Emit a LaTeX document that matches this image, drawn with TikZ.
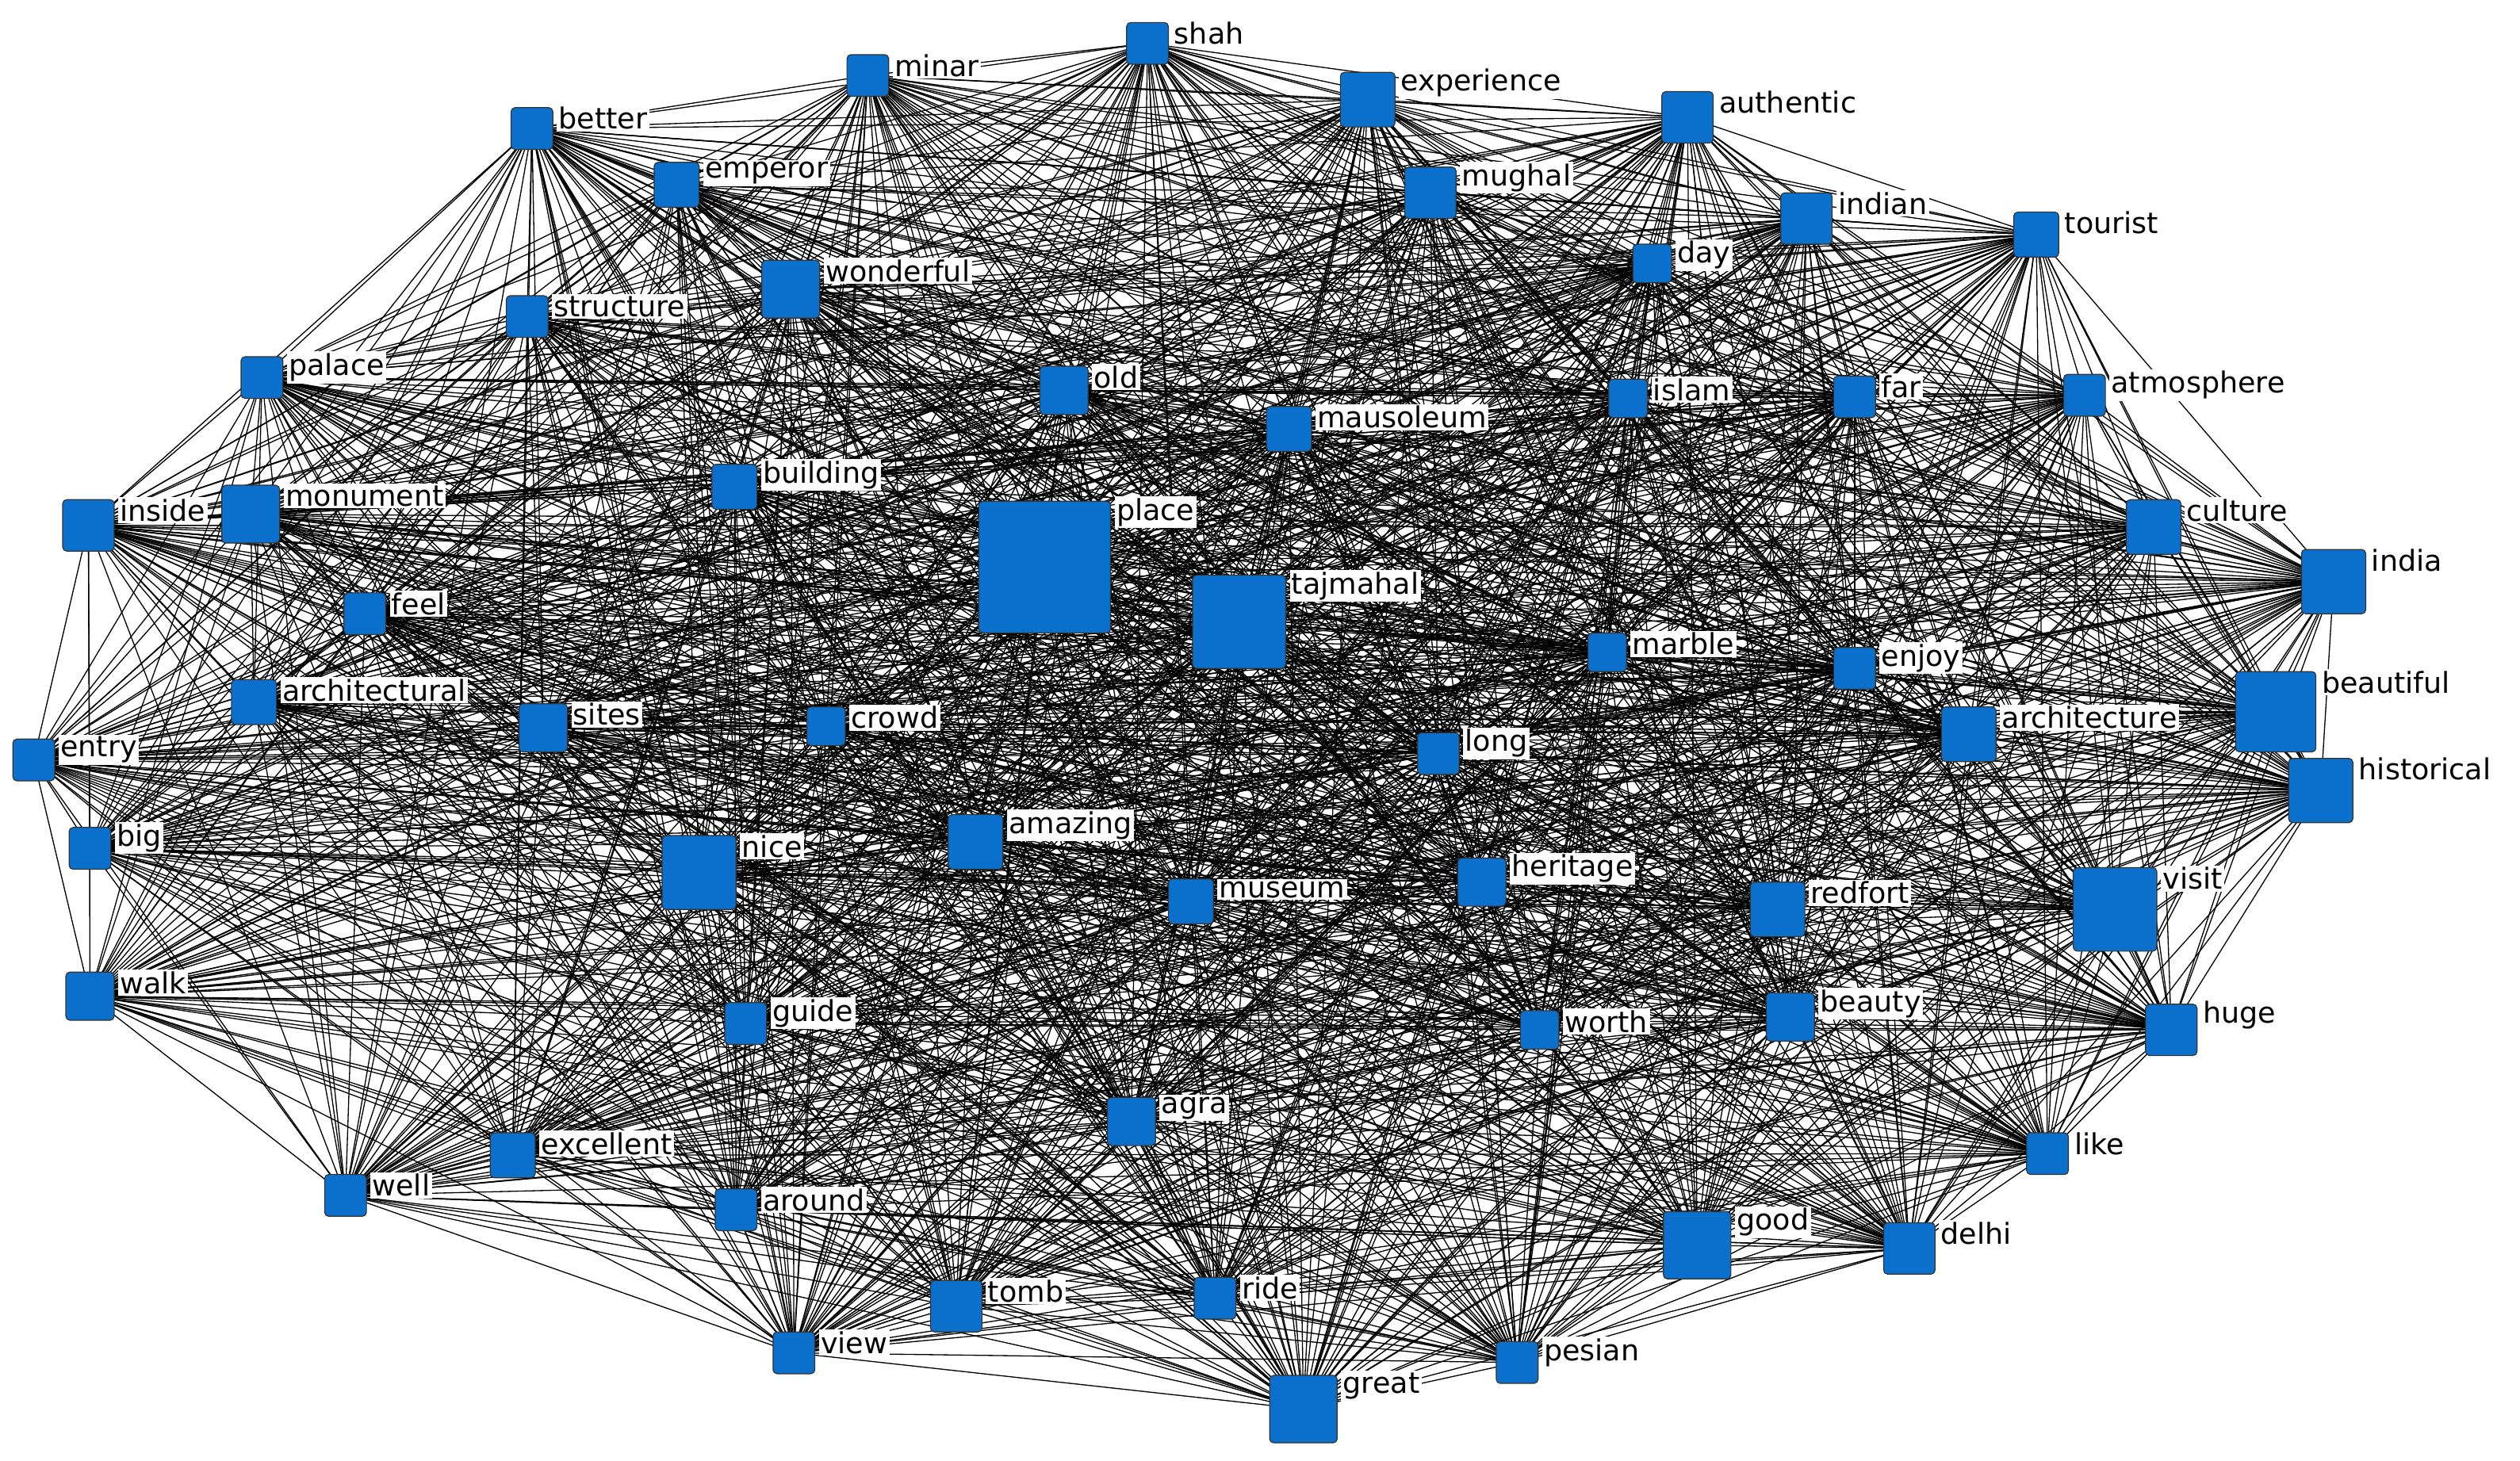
\documentclass[tikz,border=0pt]{standalone}
\usepackage{fontspec}
\setmainfont{DejaVu Sans}
\definecolor{nodeblue}{RGB}{10,112,204}
\begin{document}
\begin{tikzpicture}[x=1pt,y=-1pt,
  wnode/.style={draw=black!80,fill=nodeblue,rounded corners=2.5pt,line width=0.6pt,inner sep=0pt},
  wlabel/.style={fill=white,inner sep=1.2pt,font=\fontsize{18}{18}\selectfont,anchor=west},
  edge/.style={line width=0.65pt,black}]
\useasboundingbox[fill=white] (0,0) rectangle (1568,909);
\def\nodelist{shah/714/27/26,minar/540/47/26,experience/851/62/34,authentic/1050/73/32,better/331/80/26,emperor/421/115/28,mughal/890/120/32,indian/1124/136/32,tourist/1267/146/28,day/1028/164/24,wonderful/492/180/36,structure/328/197/26,palace/163/235/26,old/662/243/30,islam/1013/248/24,far/1154/247/26,atmosphere/1297/246/26,mausoleum/802/267/28,building/457/303/28,inside/55/327/32,monument/156/320/36,culture/1340/328/34,place/650/353/82,tajmahal/771/387/58,india/1452/362/40,feel/227/382/26,marble/1000/406/24,enjoy/1154/416/26,beautiful/1416/443/50,architectural/158/437/28,sites/338/453/30,crowd/514/452/24,architecture/1225/457/34,entry/21/473/26,long/895/469/26,historical/1444/492/40,big/56/528/26,nice/435/543/46,amazing/607/524/34,museum/741/561/28,heritage/922/549/30,redfort/1106/566/34,visit/1316/566/52,walk/56/620/30,guide/464/637/26,worth/958/641/24,beauty/1114/633/30,huge/1351/641/32,agra/704/698/30,like/1274/718/26,excellent/319/719/28,well/215/744/26,around/458/753/26,good/1056/775/42,delhi/1188/777/32,tomb/595/813/32,ride/756/808/26,view/494/842/26,great/811/877/42,pesian/944/848/26}
\foreach \n/\x/\y/\s in \nodelist { \coordinate (c-\n) at (\x,\y); }
\foreach \a/\xa/\ya/\sa [count=\i] in \nodelist {
  \foreach \b/\xb/\yb/\sb [count=\j] in \nodelist {
    \ifnum\j>\i \draw[edge] (c-\a) -- (c-\b); \fi
  }
}
\foreach \n/\x/\y/\s in \nodelist {
  \node[wnode,minimum size=\s pt] (\n) at (c-\n) {};
  \node[wlabel] (l-\n) at ([xshift=2pt,yshift=-7pt]\n.north east) {\n};
}
\end{tikzpicture}
\end{document}
